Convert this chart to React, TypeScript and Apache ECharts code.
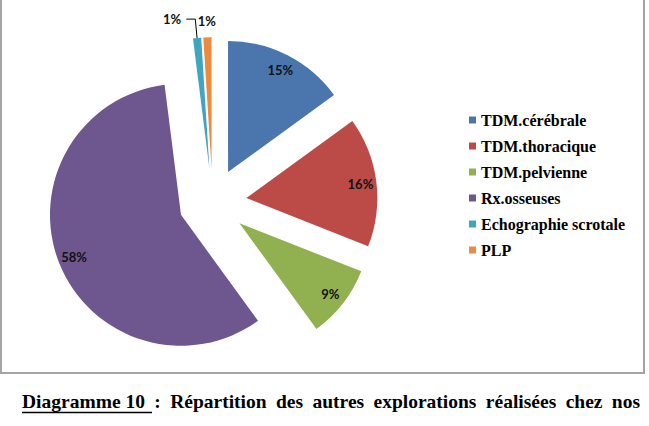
import React, { useEffect, useRef } from "react";
import * as echarts from "echarts";

const categories = [
  "TDM.cérébrale",
  "TDM.thoracique",
  "TDM.pelvienne",
  "Rx.osseuses",
  "Echographie scrotale",
  "PLP",
];
const values = [15, 16, 9, 58, 1, 1];
const colors = ["#4A76AD", "#BC4B48", "#91B151", "#6E578E", "#40A5BF", "#EC8A3F"];
const captionBold = "Diagramme 10";
const captionRest = [":", "Répartition", "des", "autres", "explorations", "réalisées", "chez", "nos"];

const SERIF = "Liberation Serif";

export default function App() {
  const ref = useRef<HTMLDivElement>(null);
  useEffect(() => {
    if (!ref.current) return;
    const chart = echarts.init(ref.current, undefined, { renderer: "svg" });
    const center = [212.6, 202.3];
    const R = 131;
    const offset = 34;
    const labelFont = {
      fontFamily: "Lato",
      fontWeight: "bold" as const,
      fontSize: 13,
      color: "#111",
    };
    const mainData = categories.map((name, i) => ({
      name,
      value: values[i],
      selected: true,
      itemStyle: { color: colors[i] },
      label:
        i === 4
          ? { show: true, position: "outside" as const, formatter: "{c}%", ...labelFont }
          : { show: false },
      labelLine:
        i === 4
          ? { show: true, length: 19, length2: 9, lineStyle: { color: "#000", width: 1 } }
          : { show: false },
    }));
    const overlayData = categories.map((name, i) => ({
      name,
      value: values[i],
      selected: true,
      itemStyle: { color: "rgba(0,0,0,0)" },
      label: { show: i < 4 },
    }));
    const overlay2Data = categories.map((name, i) => ({
      name,
      value: values[i],
      selected: true,
      itemStyle: { color: "rgba(0,0,0,0)" },
      label: { show: i === 5 },
    }));
    const common = {
      type: "pie" as const,
      center,
      startAngle: 90,
      clockwise: true,
      selectedMode: "multiple" as const,
      selectedOffset: offset,
      avoidLabelOverlap: false,
      emphasis: { disabled: true },
    };
    const captionStyle = {
      fontFamily: SERIF,
      fontWeight: "bold" as const,
      fontSize: 19.5,
      color: "#000",
    };
    const captionText =
      `{n|${captionBold}}` + captionRest.map((w) => `{s| }{n|${w}}`).join("");
    chart.setOption({
      animation: false,
      legend: {
        data: categories,
        orient: "vertical",
        left: 464,
        top: 107,
        icon: "rect",
        itemWidth: 7,
        itemHeight: 7,
        itemGap: 10,
        selectedMode: false,
        textStyle: {
          fontFamily: SERIF,
          fontWeight: "bold",
          fontSize: 16,
          color: "#000",
        },
      },
      title: {
        text: captionText,
        left: 22,
        top: 391,
        padding: 0,
        textStyle: {
          rich: {
            n: captionStyle,
            s: { ...captionStyle, width: 9.4 },
          },
        },
      },
      graphic: [
        {
          type: "rect",
          shape: { x: 1, y: -10, width: 643, height: 383 },
          style: { fill: "none", stroke: "#a4a4a4", lineWidth: 2 },
          silent: true,
        },
        {
          type: "line",
          shape: { x1: 22, y1: 412.5, x2: 152, y2: 412.5 },
          style: { stroke: "#000", lineWidth: 1.3 },
          silent: true,
        },
      ],
      series: [
        {
          ...common,
          name: "main",
          radius: [0, R],
          data: mainData,
        },
        {
          ...common,
          name: "labels",
          radius: [90, 134],
          silent: true,
          label: { position: "inside", formatter: "{c}%", ...labelFont },
          labelLine: { show: false },
          data: overlayData,
        },
        {
          ...common,
          name: "labels2",
          radius: [134, 154],
          silent: true,
          label: { position: "inside", formatter: "{c}%", ...labelFont },
          labelLine: { show: false },
          data: overlay2Data,
        },
      ],
    });
    return () => chart.dispose();
  }, []);
  return (
    <div
      ref={ref}
      style={{ position: "absolute", left: 0, top: 0, width: 649, height: 426, background: "#fff" }}
    />
  );
}
